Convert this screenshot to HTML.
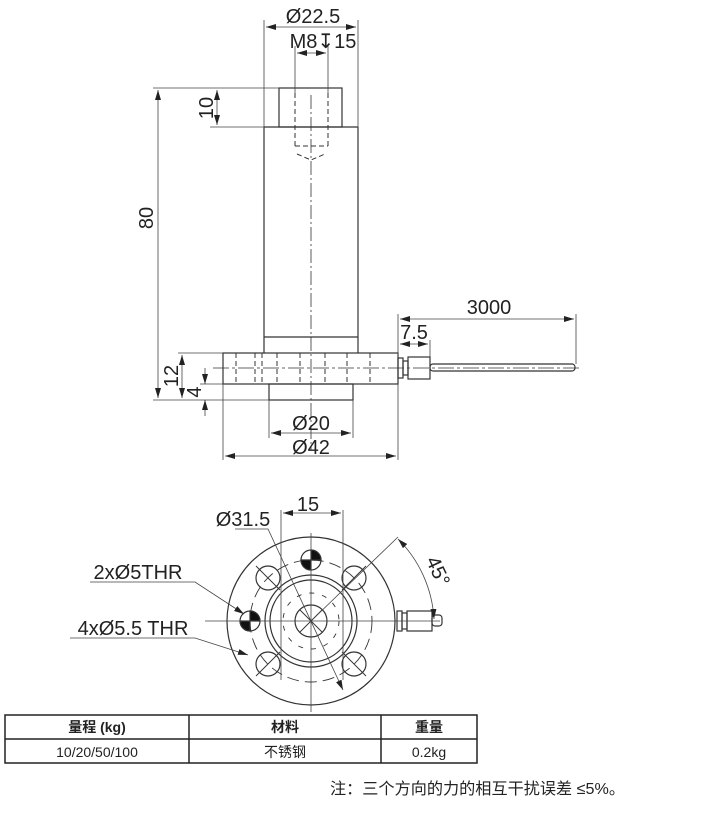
<!DOCTYPE html>
<html><head><meta charset="utf-8"><style>
html,body{margin:0;padding:0;background:#fff;width:708px;height:819px;overflow:hidden}
svg{display:block}
text{font-family:"Liberation Sans","Noto Sans CJK SC",sans-serif;fill:#222}
</style></head><body>
<svg width="708" height="819" viewBox="0 0 708 819" xmlns="http://www.w3.org/2000/svg">
<defs>
<marker id="a" viewBox="0 0 10 6" refX="10" refY="3" markerWidth="10" markerHeight="6" orient="auto-start-reverse" markerUnits="userSpaceOnUse"><path d="M0,0L10,3L0,6z" fill="#222"/></marker>
</defs>
<g stroke="#333" fill="none" stroke-width="1.2">
<rect x="279" y="88" width="63" height="39"/>
<path d="M264,127H358M264,127V353M358,127V353M264,337H358"/>
<rect x="223" y="353" width="175" height="31"/>
<rect x="269" y="384" width="84" height="16"/>
<g stroke-dasharray="5,3" stroke-width="1">
<path d="M295,93V146M328,93V146M295,146H328M297,154L311,160L325,154"/>
<path d="M236,353V384M255,353V384M262,353V384M277,353V384M300,353V384M325,353V384M347,353V384M370,353V384"/>
</g>
<path d="M311,95V450" stroke-dasharray="14,3,2,3" stroke-width="0.8"/>
<path d="M213,368H580" stroke-dasharray="16,3,3,3" stroke-width="0.8"/>
<rect x="398" y="358" width="5" height="20"/>
<rect x="403" y="361" width="5" height="14"/>
<rect x="408" y="357" width="22" height="22"/>
<rect x="430" y="364" width="145" height="7" rx="3"/>
</g>
<g stroke="#444" stroke-width="0.8" fill="none">
<path d="M264,127V20M358,127V20M295,93V46M328,93V46"/>
<path d="M266,27H356" marker-start="url(#a)" marker-end="url(#a)"/>
<path d="M297,53H326" marker-start="url(#a)" marker-end="url(#a)"/>
<path d="M153,88H279M210,127H264M153,400H269M178,353H223M200,384H223"/>
<path d="M158,90V398" marker-start="url(#a)" marker-end="url(#a)"/>
<path d="M217,90V125" marker-start="url(#a)" marker-end="url(#a)"/>
<path d="M182,355V398" marker-start="url(#a)" marker-end="url(#a)"/>
<path d="M205,368V384" marker-end="url(#a)"/><path d="M205,416V400" marker-end="url(#a)"/>
<path d="M269,400V438M353,400V438M223,384V460M398,384V460M398,357V314M430,357V340M576,364V314"/>
<path d="M271,433H351" marker-start="url(#a)" marker-end="url(#a)"/>
<path d="M225,456H396" marker-start="url(#a)" marker-end="url(#a)"/>
<path d="M400,319H574" marker-start="url(#a)" marker-end="url(#a)"/>
<path d="M400,344H428" marker-start="url(#a)" marker-end="url(#a)"/>
</g>
<g font-size="20">
<text x="313" y="23" text-anchor="middle">Ø22.5</text>
<text x="323" y="48" text-anchor="middle">M8↧15</text>
<text transform="translate(153,218) rotate(-90)" text-anchor="middle">80</text>
<text transform="translate(213,108) rotate(-90)" text-anchor="middle">10</text>
<text transform="translate(178,376) rotate(-90)" text-anchor="middle">12</text>
<text transform="translate(201,392) rotate(-90)" text-anchor="middle">4</text>
<text x="311" y="430" text-anchor="middle">Ø20</text>
<text x="311" y="454" text-anchor="middle">Ø42</text>
<text x="489" y="314" text-anchor="middle">3000</text>
<text x="414" y="339" text-anchor="middle">7.5</text>
</g>
<g stroke="#333" fill="none" stroke-width="1.2">
<circle cx="311" cy="621" r="84"/>
<circle cx="311" cy="621" r="46"/>
<circle cx="311" cy="621" r="41"/>
<circle cx="311" cy="621" r="16"/>
<circle cx="311" cy="621" r="61" stroke-dasharray="12,6" stroke-width="0.9"/>
<circle cx="311" cy="621" r="28" stroke-dasharray="5,8" stroke-width="0.9"/>
<circle cx="268" cy="578" r="12"/><circle cx="354" cy="578" r="12"/>
<circle cx="268" cy="664" r="12"/><circle cx="354" cy="664" r="12"/>
<path d="M256,566L280,590M366,566L342,590M256,676L280,652M366,676L342,652M300,610L322,632M322,610L300,632" stroke-width="0.9"/>
<circle cx="311" cy="560" r="10"/><circle cx="250" cy="621" r="10"/>
<path d="M311,560V550A10,10 0 0 1 321,560Z M311,560V570A10,10 0 0 1 301,560Z M250,621V611A10,10 0 0 1 260,621Z M250,621V631A10,10 0 0 1 240,621Z" fill="#111"/>
<rect x="397" y="611" width="5" height="20"/><rect x="402" y="613" width="5" height="16"/>
<rect x="407" y="611" width="25" height="20"/><rect x="432" y="615" width="10" height="11" rx="3"/>
</g>
<g stroke="#444" stroke-width="0.8" fill="none">
<path d="M311,533V712M205,621H440M281,510V680M343,510V680"/>
<path d="M283,513H341" marker-start="url(#a)" marker-end="url(#a)"/>
<path d="M235,529H268L343,690" marker-end="url(#a)"/>
<path d="M311,621L398,537"/>
<path d="M398,539A123,123 0 0 1 434,619" marker-start="url(#a)" marker-end="url(#a)"/>
<path d="M90,582H195L244,614" marker-end="url(#a)"/>
<path d="M70,638H195L248,655" marker-end="url(#a)"/>
</g>
<g font-size="20">
<text x="308" y="511" text-anchor="middle">15</text>
<text x="243" y="526" text-anchor="middle">Ø31.5</text>
<text x="138" y="579" text-anchor="middle">2xØ5THR</text>
<text x="133" y="635" text-anchor="middle">4xØ5.5 THR</text>
<text transform="translate(432,574) rotate(65)" text-anchor="middle">45°</text>
</g>
<g stroke="#222" stroke-width="1.5" fill="none">
<rect x="5" y="715" width="472" height="48"/>
<path d="M5,739H477M189,715V763M381,715V763"/>
</g>
<g font-size="14" text-anchor="middle">
<text x="97" y="732" font-weight="bold">量程 (kg)</text>
<text x="285" y="732" font-weight="bold">材料</text>
<text x="429" y="732" font-weight="bold">重量</text>
<text x="97" y="757">10/20/50/100</text>
<text x="285" y="757">不锈钢</text>
<text x="429" y="757">0.2kg</text>
</g>
<text x="330" y="794" font-size="16" textLength="295" lengthAdjust="spacingAndGlyphs">注：三个方向的力的相互干扰误差 ≤5%。</text>
</svg>
</body></html>
